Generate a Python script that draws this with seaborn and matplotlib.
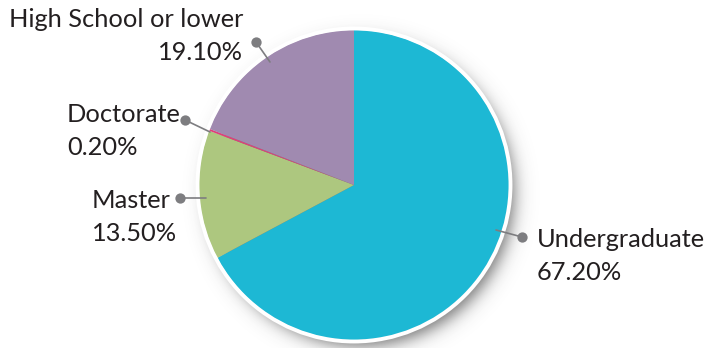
import numpy as np
import matplotlib
matplotlib.use("Agg")
import matplotlib.pyplot as plt
import seaborn as sns
from matplotlib.patches import Circle

sns.set_theme(style="white")
plt.rcParams["font.family"] = ["Lato", "DejaVu Sans"]

# Education level distribution
categories = ["Undergraduate", "Master", "Doctorate", "High School or lower"]
shares = [67.20, 13.50, 0.20, 19.10]
colors = ["#1db8d4", "#adc77f", "#e0407a", "#a08ab0"]

W, H = 708, 348
fig = plt.figure(figsize=(W / 100, H / 100), dpi=100)
ax = fig.add_axes([0, 0, 1, 1])

cx, cy, R = 354, 348 - 185, 155

# soft drop shadow behind the pie
yy, xx = np.mgrid[0:H, 0:W]
d = np.hypot(xx + 0.5 - (cx + 7), (H - yy - 0.5) - (cy - 8))
alpha = 0.7 / (1 + np.exp((d - R + 2) / 5.0))
shadow = np.zeros((H, W, 4))
shadow[..., :3] = 0.22
shadow[..., 3] = alpha
ax.imshow(shadow, extent=(0, W, 0, H), origin="upper", zorder=0, interpolation="bilinear")

ax.pie(shares, colors=colors, startangle=90, counterclock=False,
       center=(cx, cy), radius=R, wedgeprops=dict(linewidth=0), frame=True)
ax.set_xlim(0, W)
ax.set_ylim(0, H)
ax.set_aspect("equal")
ax.axis("off")
ax.add_patch(Circle((cx, cy), R + 1.5, fill=False, edgecolor="white", lw=2.8, zorder=5))

txt = "#231f20"
fs = 18.3
dot = "#7d7d80"

# leader lines: (point inside pie, dot position) in pixel coords (y from top)
leaders = [
    ((496, 230), (522, 237)),
    ((206, 198), (180, 198)),
    ((210, 132), (185, 120)),
    ((270, 62), (256, 42)),
]
for (p0, p1) in leaders:
    ax.plot([p0[0], p1[0]], [H - p0[1], H - p1[1]], color=dot, lw=1.2, zorder=6)
    ax.scatter([p1[0]], [H - p1[1]], s=55, color=dot, zorder=7, linewidths=0)

labels = [
    (537, 247, 280, "left"),
    (92, 208, 241, "left"),
    (67, 122, 155, "left"),
    (243, 27, 60, "right"),
]
for (name, val), (x, y1, y2, ha) in zip(zip(categories, shares), labels):
    ax.text(x, H - y1, name, ha=ha, va="baseline", fontsize=fs, color=txt, zorder=8)
    ax.text(x, H - y2, f"{val:.2f}%", ha=ha, va="baseline", fontsize=fs, color=txt, zorder=8)

fig.savefig("out.png", dpi=100, facecolor="white")
